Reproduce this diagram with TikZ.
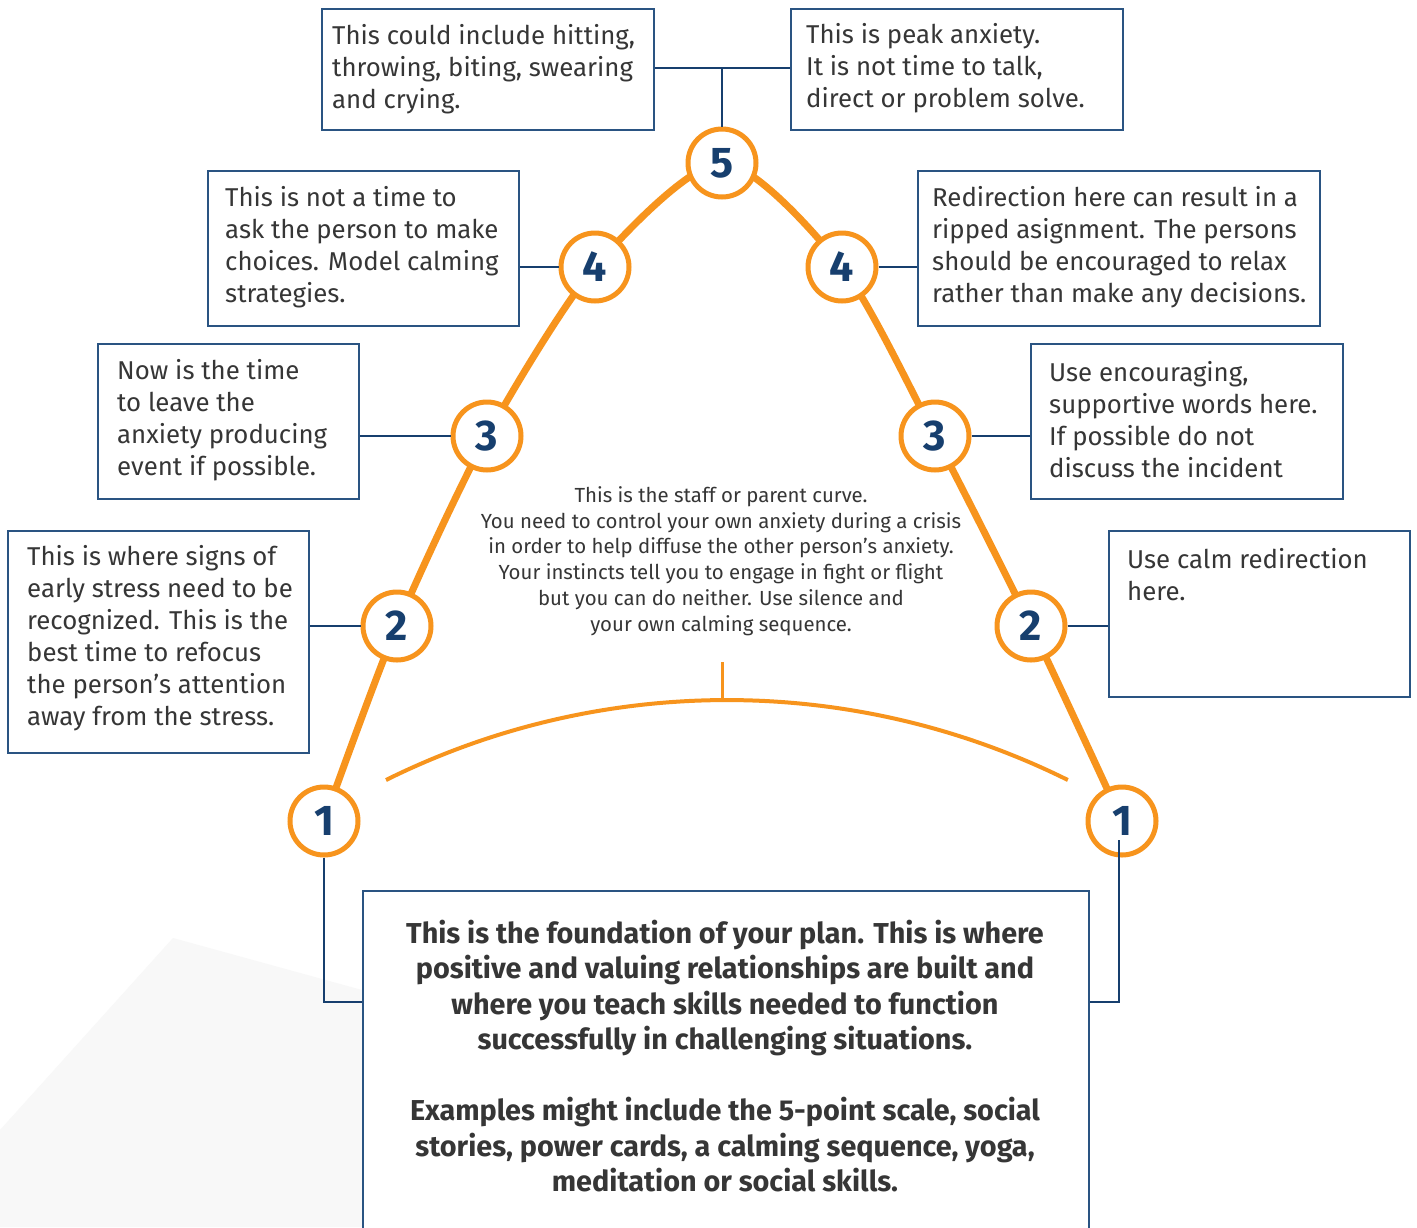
\documentclass[tikz,border=0pt]{standalone}
\usepackage{fontspec}
\setmainfont{Fira Sans}
\definecolor{orng}{HTML}{F7941D}
\definecolor{navy}{HTML}{173F6E}
\definecolor{boxblue}{HTML}{2A5482}
\definecolor{txt}{HTML}{363636}
\definecolor{wm}{HTML}{F8F8F8}
\begin{document}
\begin{tikzpicture}[x=1pt,y=-1pt,
  stepcirc/.style={circle, draw=orng, line width=5pt, fill=white, minimum size=68pt, inner sep=0pt,
     font=\fontsize{43}{43}\selectfont\bfseries, text=navy},
  infobox/.style={draw=boxblue, line width=1.5pt, fill=white, anchor=north west, inner sep=0pt},
  boxtext/.style={anchor=west, align=left, inner sep=0pt, text=txt, font=\fontsize{25.8}{32}\selectfont},
  link/.style={draw=navy, line width=2.5pt},
  curveline/.style={draw=orng, line width=7pt},
  staffline/.style={draw=orng, line width=4pt},
]
\useasboundingbox (0,0) rectangle (1417,1227);
\fill[white] (0,0) rectangle (1417,1227);
% faint watermark
\fill[wm] (0,1130) -- (173,938) -- (362,990) -- (362,1227) -- (0,1227) -- cycle;

% circle positions
\coordinate (p1L) at (324,821);
\coordinate (p2L) at (397,626);
\coordinate (p3L) at (487,436);
\coordinate (p4L) at (595,267);
\coordinate (p5) at (722,163);
\coordinate (p4R) at (842,267);
\coordinate (p3R) at (935,436);
\coordinate (p2R) at (1031,626);
\coordinate (p1R) at (1122,821);

% anxiety curve
\draw[curveline] plot[smooth, tension=0.45] coordinates {(p1L) (p2L) (p3L) (p4L) (p5) (p4R) (p3R) (p2R) (p1R)};

% staff curve
\coordinate (sa) at (386,780);
\coordinate (stop) at (722,700);
\coordinate (stick) at (722,662);
\draw[staffline] (sa) arc[start angle=-116.4, end angle=-63.6, radius=766.8];
\draw[orng, line width=3pt] (stick) -- (stop);

% boxes
\node[infobox, minimum width=332pt, minimum height=121pt] (b5L) at (321,8) {};
\node[infobox, minimum width=332pt, minimum height=121pt] (b5R) at (790,8) {};
\node[infobox, minimum width=311pt, minimum height=155pt] (b4L) at (207,170) {};
\node[infobox, minimum width=402pt, minimum height=155pt] (b4R) at (917,170) {};
\node[infobox, minimum width=261pt, minimum height=155pt] (b3L) at (97,343) {};
\node[infobox, minimum width=312pt, minimum height=155pt] (b3R) at (1030,343) {};
\node[infobox, minimum width=301pt, minimum height=222pt] (b2L) at (7,530) {};
\node[infobox, minimum width=301pt, minimum height=166pt] (b2R) at (1108,530) {};
\node[infobox, minimum width=726pt, minimum height=345pt] (bF) at (362,890) {};

% box texts
\node[boxtext] (t5L) at (332,69) {This could include hitting,\\throwing, biting, swearing\\and crying.};
\node[boxtext] (t5R) at (806,68) {This is peak anxiety.\\It is not time to talk,\\direct or problem solve.};
\node[boxtext] (t4L) at (225,247) {This is not a time to\\ask the person to make\\choices. Model calming\\strategies.};
\node[boxtext] (t4R) at (932,247) {Redirection here can result in a\\ripped asignment. The persons\\should be encouraged to relax\\rather than make any decisions.};
\node[boxtext] (t3L) at (117,420) {Now is the time\\to leave the\\anxiety producing\\event if possible.};
\node[boxtext] (t3R) at (1049,420) {Use encouraging,\\supportive words here.\\If possible do not\\discuss the incident};
\node[boxtext] (t2L) at (27,638) {This is where signs of\\early stress need to be\\recognized. This is the\\best time to refocus\\the person’s attention\\away from the stress.};
\node[boxtext] (t2R) at (1127,575) {Use calm redirection\\here.};
\node[align=center, inner sep=0pt, text=txt, font=\fontsize{28.8}{35.5}\selectfont\bfseries] (tF) at (725,1056)
 {This is the foundation of your plan. This is where\\positive and valuing relationships are built and\\where you teach skills needed to function\\successfully in challenging situations.\\[35.5pt]Examples might include the 5-point scale, social\\stories, power cards, a calming sequence, yoga,\\meditation or social skills.};
\node[align=center, inner sep=0pt, text=txt, font=\fontsize{20.4}{25.8}\selectfont] (tC) at (721,561)
 {This is the staff or parent curve.\\You need to control your own anxiety during a crisis\\in order to help diffuse the other person’s anxiety.\\Your instincts tell you to engage in fight or flight\\but you can do neither. Use silence and\\your own calming sequence.};

% connector junctions
\coordinate (j5) at (722,68);
\draw[link] (b5L.east |- j5) -- (b5R.west |- j5);
\coordinate (jL) at (362,1002);
\coordinate (s1R) at (1119,840);

% circles
\node[stepcirc] (c1L) at (p1L) {1};
\node[stepcirc] (c2L) at (p2L) {2};
\node[stepcirc] (c3L) at (p3L) {3};
\node[stepcirc] (c4L) at (p4L) {4};
\node[stepcirc] (c5) at (p5) {5};
\node[stepcirc] (c4R) at (p4R) {4};
\node[stepcirc] (c3R) at (p3R) {3};
\node[stepcirc] (c2R) at (p2R) {2};
\node[stepcirc] (c1R) at (p1R) {1};

\draw[link] (j5) -- (c5.north);
\draw[link] (c4L.west) -- (c4L -| b4L.east);
\draw[link] (c4R.east) -- (c4R -| b4R.west);
\draw[link] (c3L.west) -- (c3L -| b3L.east);
\draw[link] (c3R.east) -- (c3R -| b3R.west);
\draw[link] (c2L.west) -- (c2L -| b2L.east);
\draw[link] (c2R.east) -- (c2R -| b2R.west);
\draw[link] (c1L.south) |- (jL);
\draw[link] (s1R) |- (bF.east |- jL);
\end{tikzpicture}
\end{document}
